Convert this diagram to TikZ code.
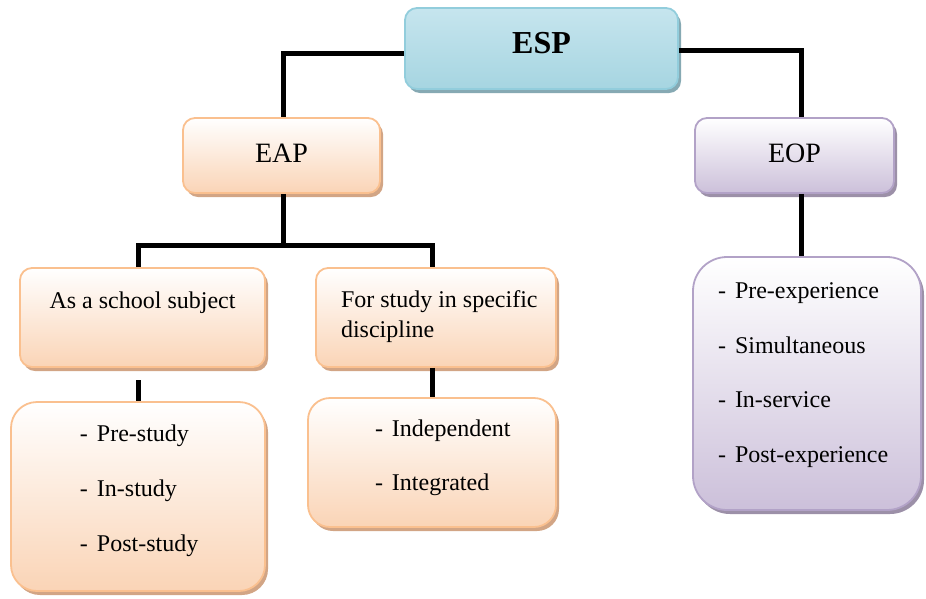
\documentclass[tikz,border=0pt]{standalone}
\usepackage{fontspec}
\setmainfont{Liberation Serif}
\usetikzlibrary{shadows}
\definecolor{espline}{HTML}{92CDDC}
\definecolor{esptop}{HTML}{C6E5EE}
\definecolor{espmid}{HTML}{E2F1F5}
\definecolor{espbot}{HTML}{A6D5E1}
\definecolor{espshadow}{HTML}{86A9B3}
\definecolor{orline}{HTML}{FAC08F}
\definecolor{orfill}{HTML}{FAD4B6}
\definecolor{orshadow}{HTML}{D2A585}
\definecolor{puline}{HTML}{B2A2C7}
\definecolor{pufill}{HTML}{CCC0DA}
\definecolor{pushadow}{HTML}{9C90A8}
\newcommand\dashitem[1]{\makebox[17pt][l]{-}#1}
\tikzset{
  box/.style={line width=1.8pt, rounded corners=12pt, inner sep=0pt, text=black},
  espbox/.style={box, draw=espline, top color=esptop, middle color=espmid, bottom color=espbot,
    general shadow={fill=espshadow, shadow xshift=3pt, shadow yshift=-4pt},
    font=\bfseries\fontsize{32pt}{38pt}\selectfont},
  orangebox/.style={box, draw=orline, top color=white, bottom color=orfill,
    general shadow={fill=orshadow, shadow xshift=3pt, shadow yshift=-4pt}},
  purplebox/.style={box, draw=puline, top color=white, bottom color=pufill,
    general shadow={fill=pushadow, shadow xshift=3pt, shadow yshift=-4pt}},
  bigtext/.style={font=\fontsize{28pt}{34pt}\selectfont},
  bodytext/.style={font=\fontsize{24pt}{30pt}\selectfont},
  conn/.style={line width=5pt, draw=black},
}
\begin{document}
\begin{tikzpicture}[x=1pt,y=-1pt]
\useasboundingbox (0,0) rectangle (926,598);
% boxes
\node[espbox] (esp) at (541.5,48.5)
  {\parbox[c][81pt][t]{273pt}{\centering\vspace*{24.5pt}ESP}};
\node[orangebox, bigtext] (eap) at (281.5,155.5)
  {\parbox[c][75pt][t]{197pt}{\centering\vspace*{26pt}EAP}};
\node[purplebox, bigtext] (eop) at (794.5,155.5)
  {\parbox[c][75pt][t]{199pt}{\centering\vspace*{26pt}EOP}};
\node[orangebox, bodytext] (sch) at (142.5,317.5)
  {\parbox[c][99pt][t]{245pt}{\centering\vspace*{23.5pt}As a school subject}};
\node[orangebox, bodytext] (dis) at (436,317.5)
  {\parbox[c][99pt][t]{240pt}{\vspace*{22.5pt}\leftskip=25pt For study in specific\\discipline}};
\node[orangebox, rounded corners=26pt, font=\fontsize{24pt}{55pt}\selectfont] (l1) at (138,496.5)
  {\parbox[c][189pt][t]{254pt}{\vspace*{22.7pt}\leftskip=69pt \dashitem{Pre-study}\\\dashitem{In-study}\\\dashitem{Post-study}}};
\node[orangebox, rounded corners=22pt, font=\fontsize{24pt}{54pt}\selectfont] (l2) at (432,462.5)
  {\parbox[c][129pt][t]{248pt}{\vspace*{21.6pt}\leftskip=67pt \dashitem{Independent}\\\dashitem{Integrated}}};
\node[purplebox, rounded corners=34pt, font=\fontsize{24pt}{54.5pt}\selectfont] (l3) at (807,383.5)
  {\parbox[c][253pt][t]{228pt}{\vspace*{25.7pt}\leftskip=25pt \dashitem{Pre-experience}\\\dashitem{Simultaneous}\\\dashitem{In-service}\\\dashitem{Post-experience}}};
% connectors
\coordinate (jl) at (283,53);
\coordinate (jr) at (801,50);
\coordinate (j1) at (283,245);
\coordinate (g1y) at (0,380);
\draw[conn] (jl -| esp.west) -- (jl) -- (jl |- eap.north);
\draw[conn] (jr -| esp.east) -- (jr) -- (jr |- eop.north);
\draw[conn] (jr |- eop.south) -- (jr |- l3.north);
\draw[conn] (j1 |- eap.south) -- (j1);
\draw[conn] (l1.north |- sch.north) |- (j1) -| (l2.north |- dis.north);
\draw[conn] (l1.north |- g1y) -- (l1.north);
\draw[conn] (l2.north |- dis.south) -- (l2.north);
\end{tikzpicture}
\end{document}
